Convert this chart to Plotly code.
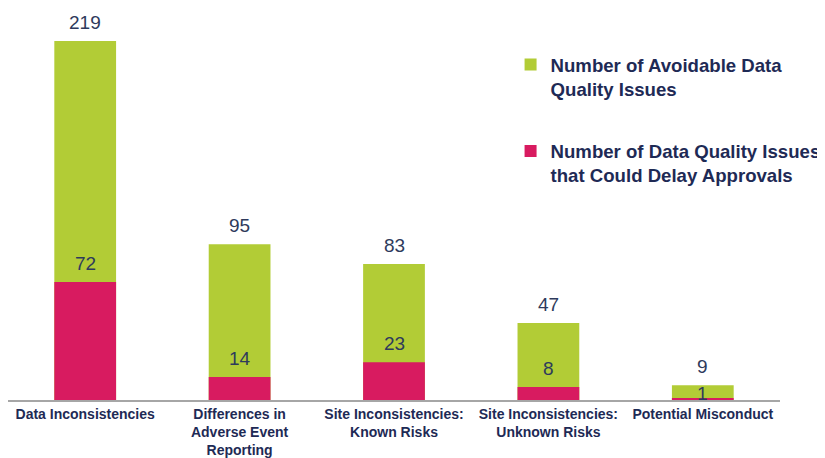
import plotly.graph_objects as go

categories = [
    "Data Inconsistencies",
    "Differences in<br>Adverse Event<br>Reporting",
    "Site Inconsistencies:<br>Known Risks",
    "Site Inconsistencies:<br>Unknown Risks",
    "Potential Misconduct",
]
avoidable = [219, 95, 83, 47, 9]
delay = [72, 14, 23, 8, 1]
# vertical offset (px) of each "delay" value label; the last one sits inside the small bar
delay_label_shift = [6, 6, 6, 6, -8]

GREEN = "#B2CC36"
PINK = "#D81B60"
NAVY = "#1E2A55"
LABEL = "#2E3A5C"

fig = go.Figure()
fig.add_trace(go.Bar(
    x=categories, y=avoidable, name="Number of Avoidable Data<br>Quality Issues",
    marker=dict(color=GREEN, line=dict(width=0)), width=0.4, legendgroup="a",
))
fig.add_trace(go.Bar(
    x=categories, y=delay, name="Number of Data Quality Issues<br>that Could Delay Approvals",
    marker=dict(color=PINK, line=dict(width=0)), width=0.4, legendgroup="b",
))

lab_font = dict(family="Liberation Sans, Arial", size=19, color=LABEL)
for c, v in zip(categories, avoidable):
    fig.add_annotation(x=c, y=v, text=str(v), showarrow=False, yanchor="bottom",
                       yshift=6, font=lab_font)
for c, v, s in zip(categories, delay, delay_label_shift):
    fig.add_annotation(x=c, y=v, text=str(v), showarrow=False, yanchor="bottom",
                       yshift=s, font=lab_font)

fig.update_layout(
    width=817, height=450,
    barmode="overlay",
    plot_bgcolor="white", paper_bgcolor="white",
    margin=dict(l=0, r=45, t=0, b=58, autoexpand=False),
    showlegend=True,
    legend=dict(x=0.651, y=0.903, xanchor="left", yanchor="top", tracegroupgap=35,
                font=dict(family="Liberation Sans, Arial", size=18.6, color=NAVY, weight="bold"),
                itemwidth=30, valign="top", bgcolor="rgba(0,0,0,0)"),
    xaxis=dict(showline=True, linecolor="#A6A6A6", linewidth=1.5, ticks="", automargin=False,
               tickfont=dict(family="Liberation Sans, Arial", size=14, color=NAVY, weight="bold"),
               showgrid=False),
    yaxis=dict(range=[0, 239.2], visible=False, showgrid=False, automargin=False),
)

fig.write_html("out.html")
